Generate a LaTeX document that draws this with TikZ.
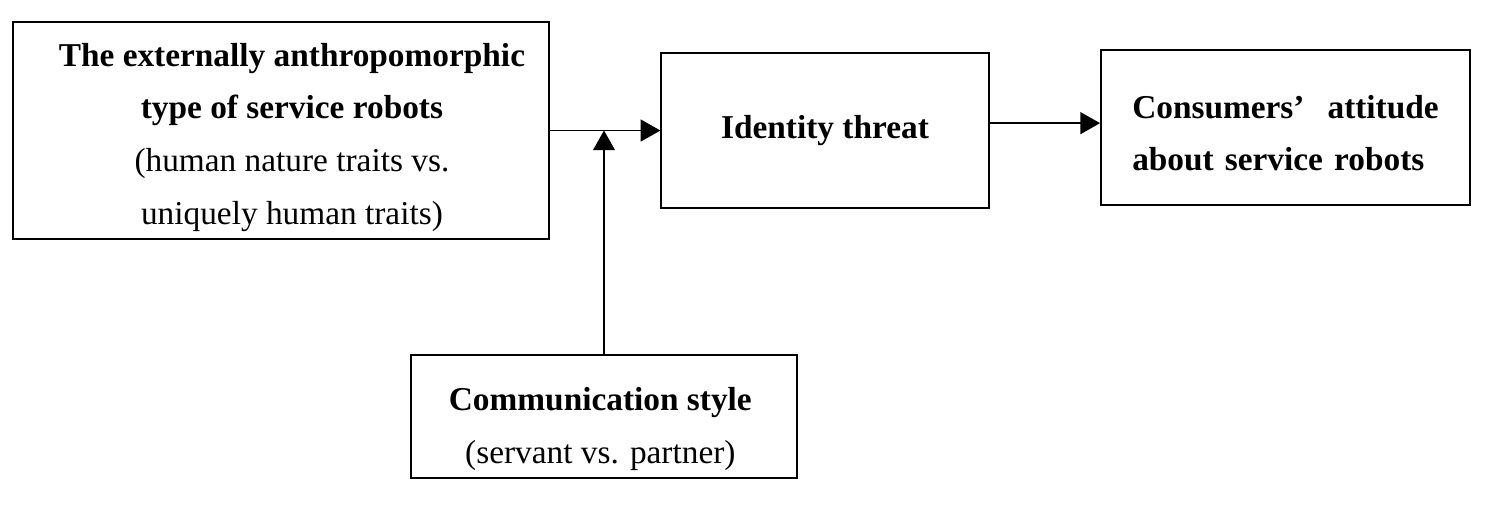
\documentclass[tikz,border=0pt]{standalone}
\usepackage{fontspec}
\setmainfont{Liberation Serif}
\usepackage{tikz}
\usetikzlibrary{arrows.meta}
\newcommand{\padtop}[1]{\rule{0pt}{#1}}

\begin{document}
\begin{tikzpicture}[x=0.0137cm,y=-0.0137cm]
            \tikzstyle{box}=[draw,line width=0.6pt,inner sep=0pt,align=center,font=\fontsize{13}{20.5}\selectfont]
            \tikzstyle{link}=[line width=0.6pt,-{Triangle[length=0.27cm,width=0.3cm]}]
            \useasboundingbox (0,0) rectangle (1496,504);
            \node[box,minimum width=7.34cm,minimum height=2.97cm] (type) at (281,130.5)
                {\padtop{14.2pt}\hspace*{0.3cm}\textbf{The externally anthropomorphic}\\\hspace*{0.3cm}\textbf{type of service robots}\\\hspace*{0.3cm}(human nature traits vs.\\\hspace*{0.3cm}uniquely human traits)};
            \node[box,minimum width=4.49cm,minimum height=2.12cm] (threat) at (825,130.5)
                {\textbf{Identity threat}};
            \node[box,minimum width=5.06cm,minimum height=2.12cm,text width=4.2cm,align=left] (attitude) at (1285.5,127.5)
                {\padtop{13.5pt}\textbf{Consumers’\hfill attitude}\\\textbf{about service robots}};
            \node[box,minimum width=5.29cm,minimum height=1.69cm] (style) at (604,416.5)
                {\padtop{18.8pt}\hspace*{-0.1cm}\textbf{Communication style}\\\hspace*{-0.1cm}(servant vs. partner)};
            \coordinate (meet) at (style.north |- type.east);
            \coordinate (intake) at ([yshift=0.06cm]attitude.west);
            \draw[link] (type.east) -- (threat.west);
            \draw[link] (style.north) -- (meet);
            \draw[link] (threat.east |- intake) -- (intake);
        \end{tikzpicture}
\end{document}
